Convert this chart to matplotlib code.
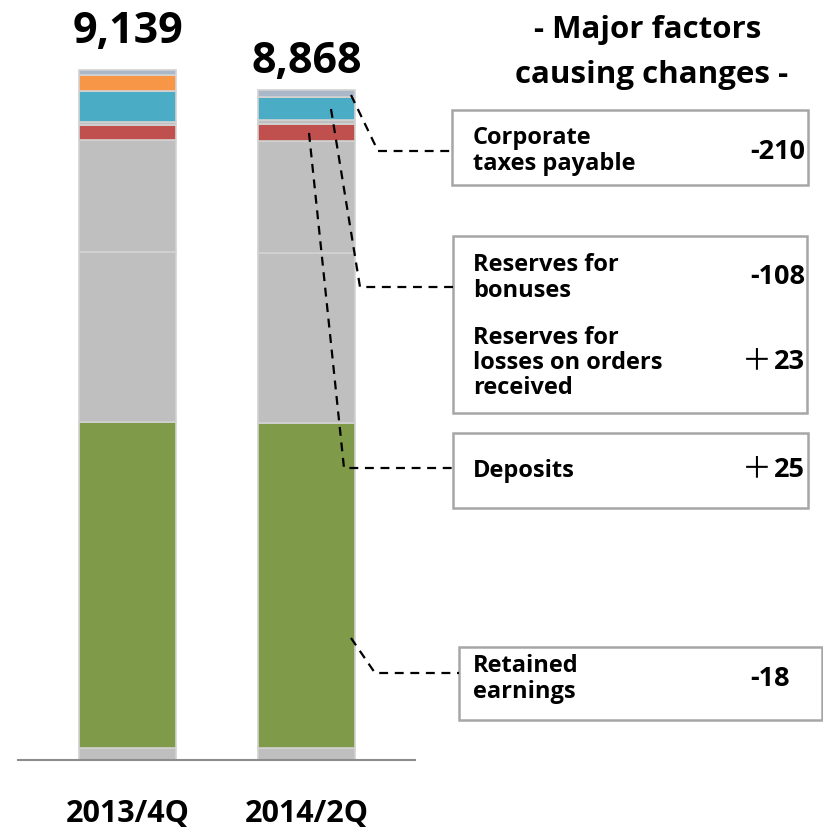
import matplotlib
matplotlib.use("Agg")
import matplotlib.pyplot as plt
from matplotlib.patches import Rectangle

# ---- data ----
categories = ["2013/4Q", "2014/2Q"]
totals = [9139, 8868]
segment_names = ["Other (bottom)", "Retained earnings", "Other equity", "Other liabilities",
                 "Deposits", "Reserves for losses on orders received",
                 "Reserves for bonuses", "Corporate taxes payable", "Other (top)"]
seg_2013 = [159, 4318, 2252, 1483, 199, 40, 411, 212, 65]
seg_2014 = [159, 4300, 2252, 1483, 224, 63, 303, 2, 82]
seg_colors = ["#bfbfbf", "#7f9a48", "#bfbfbf", "#bfbfbf", "#c0504d",
              "#bfbfbf", "#4bacc6", "#f79646", "#aab7c9"]
factor_labels = ["Corporate\ntaxes payable", "Reserves for\nbonuses",
                 "Reserves for\nlosses on orders\nreceived", "Deposits",
                 "Retained\nearnings"]
factor_values = ["-210", "-108", "+23", "+25", "-18"]

W, H = 823, 833
fig = plt.figure(figsize=(W / 100, H / 100), dpi=100)
FONT = ["Open Sans", "DejaVu Sans"]

# bar axes
ax_left, ax_right, base_y = 18, 415, 760
ax = fig.add_axes([ax_left / W, (H - base_y) / H, (ax_right - ax_left) / W, base_y / H])
ymax = base_y * 9139 / 690.0
ax.set_ylim(0, ymax)
ax.set_xlim(-0.612, 1.606)
width = 0.542
xs = [0, 1]
label_offsets = [230, 95]
for i, segs in enumerate([seg_2013, seg_2014]):
    bottom = 0
    for v, c in zip(segs, seg_colors):
        ax.bar(xs[i], v, width=width, bottom=bottom, color=c,
               edgecolor="#d2d2d2", linewidth=1.2, zorder=2)
        bottom += v
    ax.text(xs[i], totals[i] + label_offsets[i], f"{totals[i]:,}", ha="center",
            va="bottom", fontsize=31, fontweight="bold", family=FONT)

for s in ["top", "left", "right"]:
    ax.spines[s].set_visible(False)
ax.spines["bottom"].set_color("#8c8c8c")
ax.spines["bottom"].set_linewidth(1.5)
ax.set_yticks([])
ax.set_xticks(xs)
ax.set_xticklabels(categories, fontsize=22, fontweight="bold", family=FONT)
ax.tick_params(axis="x", length=0, pad=28)

# overlay axes in pixel coords for annotations
ov = fig.add_axes([0, 0, 1, 1], zorder=5)
ov.set_xlim(0, W)
ov.set_ylim(H, 0)
ov.axis("off")
ov.patch.set_alpha(0)

ov.text(648, 30, "- Major factors", ha="center", va="center", fontsize=22.5,
        fontweight="bold", family=FONT)
ov.text(652, 75, "causing changes -", ha="center", va="center", fontsize=22.5,
        fontweight="bold", family=FONT)

boxes = [(452, 110, 808, 185), (453, 236, 807, 413), (453, 433, 808, 508), (459, 647, 822, 720)]
for (x0, y0, x1, y1) in boxes:
    ov.add_patch(Rectangle((x0, y0), x1 - x0, y1 - y0, fill=False,
                           edgecolor="#a6a6a6", linewidth=1.8))

lab_fs = 17
val_fs = 19.5
lab_pos = [(473, 151), (473, 278), (473, 363), (473, 471), (473, 679)]
val_pos = [(805, 152), (805, 277), (805, 362), (805, 470), (790, 679)]
for lab, (lx, ly) in zip(factor_labels, lab_pos):
    ov.text(lx, ly, lab, ha="left", va="center", fontsize=lab_fs, fontweight="bold",
            family=FONT, linespacing=1.08)
for val, (vx, vy) in zip(factor_values, val_pos):
    if val.startswith("+"):
        ov.text(vx, vy, val[1:], ha="right", va="center", fontsize=val_fs,
                fontweight="bold", family=FONT)
        ov.text(vx - 33, vy - 1, "＋", ha="right", va="center", fontsize=val_fs + 2,
                fontweight="normal", family=["Noto Sans CJK JP", "DejaVu Sans"])
    else:
        ov.text(vx, vy, val, ha="right", va="center", fontsize=val_fs,
                fontweight="bold", family=FONT)

leaders = [
    [(351, 95), (378, 151), (452, 151)],
    [(331, 109), (360, 287), (453, 287)],
    [(309, 133), (344, 468), (453, 468)],
    [(351, 638), (375, 673), (459, 673)],
]
for pts in leaders:
    ov.plot([p[0] for p in pts], [p[1] for p in pts], color="black",
            linewidth=1.6, linestyle=(0, (4, 3)))

fig.savefig("out.png", dpi=100)
